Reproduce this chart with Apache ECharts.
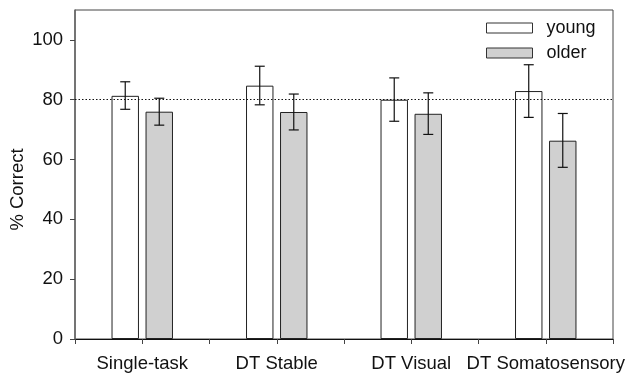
<!DOCTYPE html>
<html>
<head>
<meta charset="utf-8">
<script src="https://cdn.jsdelivr.net/npm/echarts@6/dist/echarts.min.js"></script>
<style>html,body{margin:0;padding:0;background:#fff;}#c{width:629px;height:379px;}</style>
</head>
<body>
<div id="c"></div>
<script>
const categories = ['Single-task', 'DT Stable', 'DT Visual', 'DT Somatosensory'];
const seriesNames = ['young', 'older'];
const youngMean = [81.3, 84.7, 80.0, 82.9];
const youngErrLow = [76.8, 78.3, 72.8, 74.1];
const youngErrHigh = [86.0, 91.2, 87.3, 91.7];
const olderMean = [76.0, 75.9, 75.3, 66.3];
const olderErrLow = [71.5, 69.9, 68.4, 57.4];
const olderErrHigh = [80.5, 81.9, 82.3, 75.4];
const yTicks = [0, 20, 40, 60, 80, 100];
const referenceLine = 80;

const FONT = "'Liberation Sans', Arial, sans-serif";
const BAR_W = 0.204;   // fraction of band
const BAR_GAP = 0.24;  // fraction of bar width

function errorSeries(low, high, sign) {
  return {
    type: 'custom',
    xAxisIndex: 0,
    yAxisIndex: 0,
    z: 10,
    silent: true,
    data: low.map((l, i) => [i, l, high[i]]),
    renderItem: function (params, api) {
      const band = api.size([1, 0])[0];
      const off = sign * band * BAR_W * (1 + BAR_GAP) / 2;
      const lo = api.coord([api.value(0), api.value(1)]);
      const hi = api.coord([api.value(0), api.value(2)]);
      const x = lo[0] + off;
      const cap = 5;
      const st = { stroke: '#111', lineWidth: 1.2 };
      return {
        type: 'group',
        children: [
          { type: 'line', shape: { x1: x, y1: lo[1], x2: x, y2: hi[1] }, style: st },
          { type: 'line', shape: { x1: x - cap, y1: lo[1], x2: x + cap, y2: lo[1] }, style: st },
          { type: 'line', shape: { x1: x - cap, y1: hi[1], x2: x + cap, y2: hi[1] }, style: st }
        ]
      };
    }
  };
}

const chart = echarts.init(document.getElementById('c'), null, { renderer: 'canvas' });
chart.setOption({
  animation: false,
  textStyle: { fontFamily: FONT },
  grid: { left: 75, right: 16, top: 10, bottom: 40, show: true, borderColor: '#444', borderWidth: 1, containLabel: false, outerBoundsMode: 'none' },
  legend: {
    orient: 'vertical',
    left: 481,
    top: 14,
    itemWidth: 46,
    itemHeight: 10,
    itemGap: 7,
    icon: 'rect',
    itemStyle: { borderWidth: 1, borderColor: '#333' },
    textStyle: { fontSize: 18, color: '#111', fontFamily: FONT, padding: [0, 0, 0, 9] },
    data: seriesNames
  },
  xAxis: [
    {
      type: 'category',
      data: categories,
      axisLine: { lineStyle: { color: '#111', width: 1 } },
      axisTick: { show: true, length: 5, lineStyle: { color: '#444' } },
      axisLabel: { fontSize: 18.5, color: '#111', margin: 15, fontFamily: FONT, interval: 0 },
      splitLine: { show: false }
    },
    {
      type: 'category',
      data: categories,
      position: 'bottom',
      axisLine: { show: false },
      axisTick: { show: true, alignWithLabel: true, length: 5, lineStyle: { color: '#444' } },
      axisLabel: { show: false },
      splitLine: { show: false }
    }
  ],
  yAxis: {
    type: 'value',
    min: 0,
    max: 110,
    interval: 20,
    name: '% Correct',
    nameLocation: 'middle',
    nameGap: 48,
    nameMoveOverlap: false,
    nameTextStyle: { fontSize: 18.5, color: '#111', fontFamily: FONT, padding: [0, 30, 0, 0] },
    axisLine: { show: true, lineStyle: { color: '#666', width: 1.5 } },
    axisTick: { show: true, length: 5, customValues: yTicks, lineStyle: { color: '#444' } },
    axisLabel: { fontSize: 18.5, color: '#111', margin: 12, fontFamily: FONT, customValues: yTicks },
    splitLine: { show: false }
  },
  series: [
    {
      name: 'young',
      type: 'bar',
      barWidth: (BAR_W * 100) + '%',
      barGap: (BAR_GAP * 100) + '%',
      data: youngMean,
      itemStyle: { color: '#ffffff', borderColor: '#222', borderWidth: 1 },
      markLine: {
        silent: true,
        symbol: 'none',
        label: { show: false },
        lineStyle: { type: [1.5, 2], color: '#111', width: 1 },
        data: [{ yAxis: referenceLine }]
      }
    },
    {
      name: 'older',
      type: 'bar',
      barWidth: (BAR_W * 100) + '%',
      barGap: (BAR_GAP * 100) + '%',
      data: olderMean,
      itemStyle: { color: '#d0d0d0', borderColor: '#222', borderWidth: 1 }
    },
    errorSeries(youngErrLow, youngErrHigh, -1),
    errorSeries(olderErrLow, olderErrHigh, 1)
  ]
});
</script>
</body>
</html>
